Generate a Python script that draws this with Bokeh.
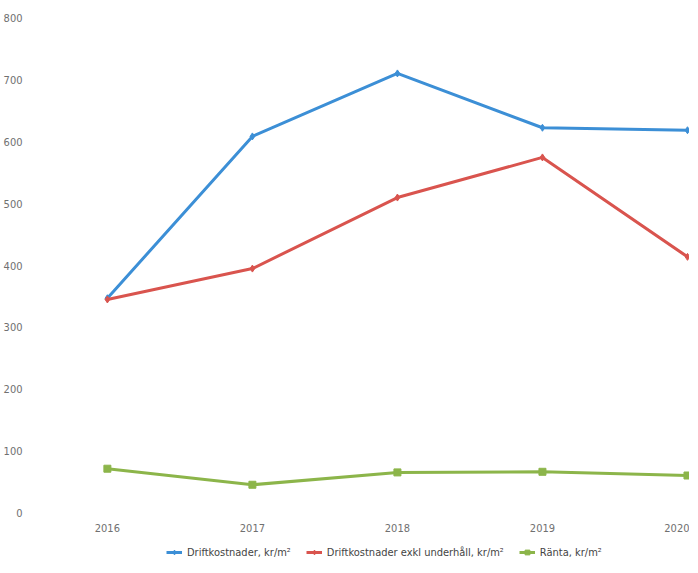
from bokeh.plotting import figure
from bokeh.layouts import column
from bokeh.models import Legend, LegendItem, FixedTicker, ColumnDataSource, Range1d
from bokeh.embed import file_html
from bokeh.resources import INLINE

years = [2016, 2017, 2018, 2019, 2020]
drift = [347, 609, 711, 623, 619]
drift_exkl = [345, 395, 510, 575, 414]
ranta = [71, 45, 65, 66, 60]
y_ticks = [0, 100, 200, 300, 400, 500, 600, 700, 800]

labels = ["Driftkostnader, kr/m²", "Driftkostnader exkl underhåll, kr/m²", "Ränta, kr/m²"]
colors = ["#3C8FD6", "#D9544E", "#8CB54A"]
markers = ["diamond", "diamond", "square"]
series = [drift, drift_exkl, ranta]

FONT = "DejaVu Sans Condensed"
TXT = "#707070"

p = figure(frame_width=651, frame_height=504, output_backend="svg", toolbar_location=None,
           x_range=(2015.525, 2020.014), y_range=(-8, 808),
           min_border_left=30, min_border_right=0, min_border_top=13, min_border_bottom=0)
p.outline_line_color = None
p.grid.grid_line_color = None

for ax in (p.xaxis[0], p.yaxis[0]):
    ax.axis_line_color = None
    ax.major_tick_line_color = None
    ax.minor_tick_line_color = None
    ax.major_label_text_font = FONT
    ax.major_label_text_font_size = "11px"
    ax.major_label_text_color = TXT

p.xaxis.ticker = FixedTicker(ticks=years)
p.yaxis.ticker = FixedTicker(ticks=y_ticks)
p.xaxis.major_label_standoff = 0
p.yaxis.major_label_standoff = 10

for col, mk, vals in zip(colors, markers, series):
    src = ColumnDataSource(dict(x=years, y=vals))
    p.line("x", "y", source=src, line_color=col, line_width=3)
    p.scatter("x", "y", source=src, marker=mk, size=7, fill_color=col, line_color=col)

# legend strip below the chart
lf = figure(width=681, height=26, output_backend="svg", toolbar_location=None,
            x_range=Range1d(0, 1), y_range=Range1d(0, 1),
            min_border_left=0, min_border_right=0, min_border_top=0, min_border_bottom=0)
lf.axis.visible = False
lf.grid.grid_line_color = None
lf.outline_line_color = None

items = []
for lab, col, mk in zip(labels, colors, markers):
    hidden = ColumnDataSource(dict(x=[-5, -4], y=[-5, -5]))
    r1 = lf.line("x", "y", source=hidden, line_color=col, line_width=3)
    r2 = lf.scatter("x", "y", source=hidden, marker=mk, size=7, fill_color=col, line_color=col)
    items.append(LegendItem(label=lab, renderers=[r1, r2]))

legend = Legend(items=items, orientation="horizontal", location=(128, 1),
                label_text_font=FONT, label_text_font_size="11px", label_text_color="#444444",
                border_line_color=None, background_fill_alpha=0,
                glyph_width=16, glyph_height=12, label_standoff=5, spacing=15,
                padding=2, margin=0, label_height=14)
lf.add_layout(legend)

layout = column(p, lf, spacing=0)
open("out.html", "w").write(file_html(layout, INLINE))
